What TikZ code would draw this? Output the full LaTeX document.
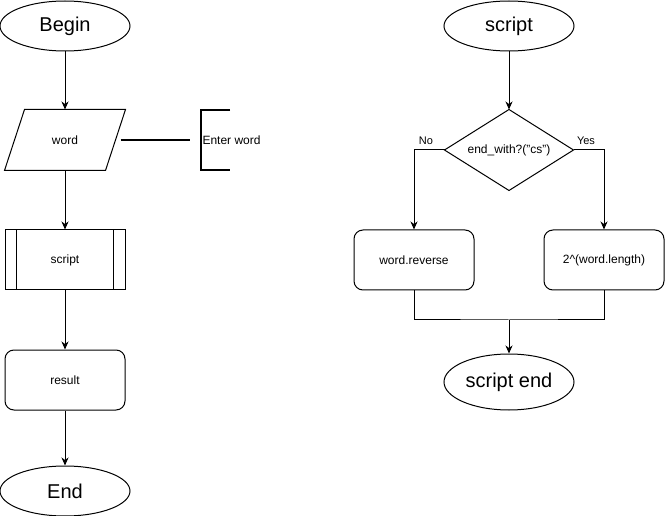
\documentclass[tikz,border=0pt]{standalone}
\usepackage{fontspec}
\setmainfont{Liberation Sans}
\usetikzlibrary{shapes.geometric,arrows.meta,calc}
\begin{document}
\begin{tikzpicture}[x=1pt,y=-1pt,line width=1pt,
  big/.style={font=\fontsize{20}{24}\selectfont},
  small/.style={font=\fontsize{12}{14}\selectfont},
  tiny/.style={font=\fontsize{11}{13}\selectfont},
  term/.style={ellipse,draw,minimum width=130pt,minimum height=50pt,inner sep=0pt,big},
  boxr/.style={rectangle,draw,rounded corners=9pt,minimum width=120pt,minimum height=60pt,inner sep=0pt,small},
  ghost/.style={rectangle,minimum width=#1,inner sep=0pt,small},
  arr/.style={-{Stealth[length=8pt,width=7pt,inset=2.5pt]}}
]
\useasboundingbox (0,0) rectangle (665,516);
% left column
\node[term] (begin) at (65,26) {Begin};
\node[ghost=120pt,minimum height=60pt] (word) at (65,140) {word};
\draw ($(word.north west)+(20,0)$) -- (word.north east) -- ($(word.south east)+(-20,0)$) -- (word.south west) -- cycle;
\node[ghost=120pt,minimum height=60pt,draw] (proc) at (65,260) {script};
\draw ($(proc.north west)+(12,0)$) -- ($(proc.south west)+(12,0)$);
\draw ($(proc.north east)+(-12,0)$) -- ($(proc.south east)+(-12,0)$);
\node[boxr] (result) at (65,380) {result};
\node[term] (end) at (65,491) {End};
\draw[arr] (begin) -- (word);
\draw[arr] (word) -- (proc);
\draw[arr] (proc) -- (result);
\draw[arr] (result) -- (end);
% annotation
\node[small,anchor=west,inner sep=0pt] (ann) at (202,140) {Enter word};
\coordinate (annin) at (190,140);
\draw[line width=1.7pt] ($(word.east)+(-5,0)$) -- (annin);
\draw[line width=2.2pt] (230,110) -- (201,110) -- (201,170) -- (230,170);
% right column
\node[term] (scr) at (509,26) {script};
\node[ghost=128pt,minimum height=80pt] (dec) at (509,150) {end\_with?("cs")};
\draw (dec.north) -- (dec.east) -- (dec.south) -- (dec.west) -- cycle;
\node[boxr] (rev) at (414,260) {word.reverse};
\node[boxr] (pow) at (604,260) {2\^{}(word.length)};
\node[term,minimum height=56pt] (send) at (509,382) {script end};
\draw[arr] (scr) -- (dec);
\draw[arr] (dec.west) -| (rev.north);
\draw[arr] (dec.east) -| (pow.north);
\node[tiny] (no) at (426,141) {No};
\node[tiny] (yes) at (586,141) {Yes};
\coordinate (join) at (509,320);
\draw (rev.south) |- (join) -| (pow.south);
\draw[arr] (join) -- (send);
\end{tikzpicture}
\end{document}
